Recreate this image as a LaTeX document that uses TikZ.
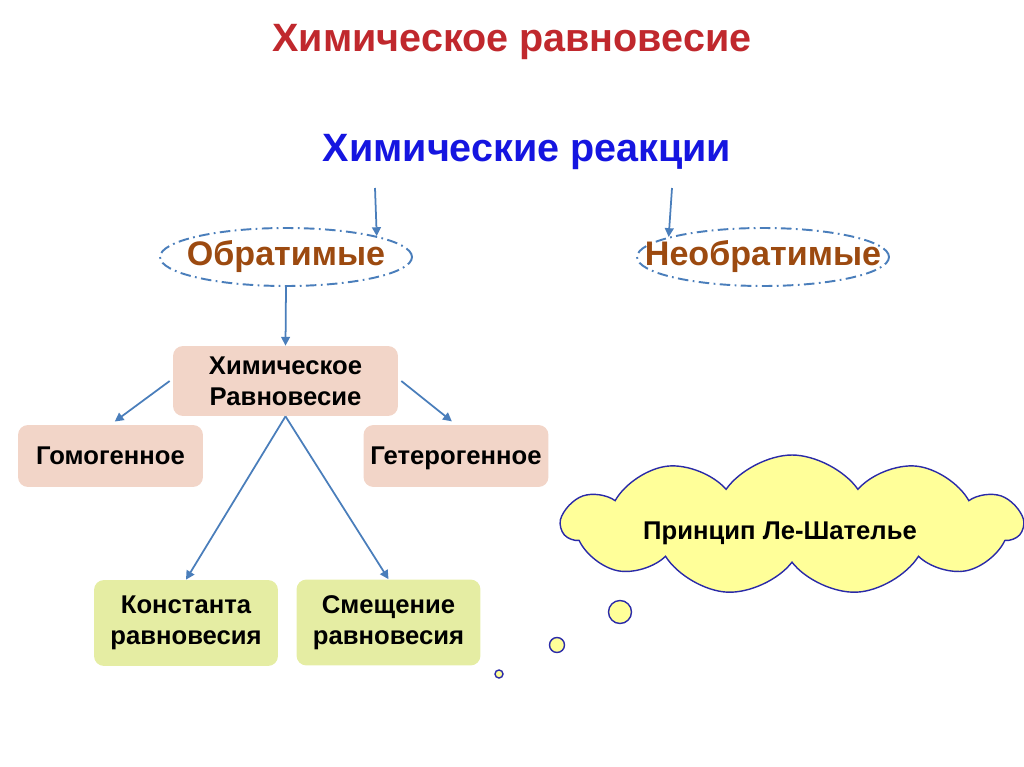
\documentclass[tikz,border=0pt]{standalone}
\usepackage{fontspec}
\setmainfont{Liberation Sans}
\usepackage{xcolor}
\definecolor{titlered}{HTML}{C0282D}
\definecolor{reactblue}{HTML}{1515E0}
\definecolor{ochre}{HTML}{9C4A10}
\definecolor{arrowblue}{HTML}{4A7EBB}
\definecolor{pinkbox}{HTML}{F2D5C8}
\definecolor{greenbox}{HTML}{E5EDA3}
\definecolor{cloudfill}{HTML}{FFFF99}
\definecolor{cloudline}{HTML}{2A2AA8}
\usepackage{tikz}
\usetikzlibrary{positioning,arrows.meta,shapes.geometric,shapes.symbols}

\begin{document}
\begin{tikzpicture}[x=0.02cm,y=-0.02cm,
  kind/.style={ellipse,draw=arrowblue,line width=1.1pt,
    dash pattern=on 6pt off 2.5pt on 1pt off 2.5pt,
    minimum width=5.04cm,minimum height=1.16cm,inner sep=0pt,
    text=ochre,font=\bfseries\fontsize{19.4}{22}\selectfont},
  box/.style={rounded corners=0.2cm,inner sep=0pt,align=center,
    font=\bfseries\fontsize{14.6}{17.5}\selectfont},
  pbox/.style={box,fill=pinkbox},
  gbox/.style={box,fill=greenbox},
  oneline/.style={text height=0.95em,text depth=0em},
  bubble/.style={circle,draw=cloudline,fill=cloudfill,line width=0.8pt,inner sep=0pt},
  arr/.style={-{Triangle[length=5pt,width=5pt]},line width=1pt,color=arrowblue}]
\useasboundingbox (0,0) rectangle (1024,767);
\node[text=titlered,font=\bfseries\fontsize{22.5}{26}\selectfont] (title) at (512,42) {Химическое равновесие};
\node[text=reactblue,font=\bfseries\fontsize{22.5}{26}\selectfont] (react) at (527,152) {Химические реакции};
\node[kind] (obr) at (286,257) {\makebox[0pt]{Обратимые}};
\node[kind] (nobr) at (763,257) {\makebox[0pt]{Необратимые}};
\coordinate (s1) at (375,188);
\coordinate (s2) at (672,188);
\draw[arr] (s1) -- (obr.13);
\draw[arr] (s2) -- (nobr.168);
% equilibrium branch
\node[pbox,minimum width=4.5cm,minimum height=1.4cm] (hr) at (285.5,381) {Химическое\\Равновесие};
\node[pbox,oneline,minimum width=3.7cm,minimum height=1.24cm] (gom) at (110.5,456) {Гомогенное};
\node[pbox,oneline,minimum width=3.7cm,minimum height=1.24cm] (get) at (456,456) {Гетерогенное};
\node[gbox,minimum width=3.68cm,minimum height=1.72cm] (const) at (186,623) {Константа\\равновесия};
\node[gbox,minimum width=3.68cm,minimum height=1.72cm] (smesh) at (388.5,622.5) {Смещение\\равновесия};
\draw[arr] (obr.south) -- (hr.north);
\draw[arr,shorten >=3pt] ([xshift=-0.06cm]hr.west) -- (gom.north);
\draw[arr,shorten >=3pt] ([xshift=0.06cm]hr.east) -- (get.north);
\draw[arr] (hr.south) -- (const.north);
\draw[arr] (hr.south) -- (smesh.north);
% thought cloud
\node[cloud,cloud puffs=11,cloud puff arc=110,cloud ignores aspect,
  draw=cloudline,fill=cloudfill,line width=0.8pt,
  minimum width=9.2cm,minimum height=2.8cm,
  font=\bfseries\fontsize{14.6}{17}\selectfont] (lesh) at (792,525)
  {\raisebox{-0.28cm}[0pt][0pt]{\makebox[0pt]{Принцип Ле-Шателье\hspace*{0.48cm}}}};
\node[bubble,minimum size=0.46cm] (b1) at (620,612) {};
\node[bubble,minimum size=0.3cm] (b2) at (557,645) {};
\node[bubble,minimum size=0.16cm] (b3) at (499,674) {};
\end{tikzpicture}
\end{document}
